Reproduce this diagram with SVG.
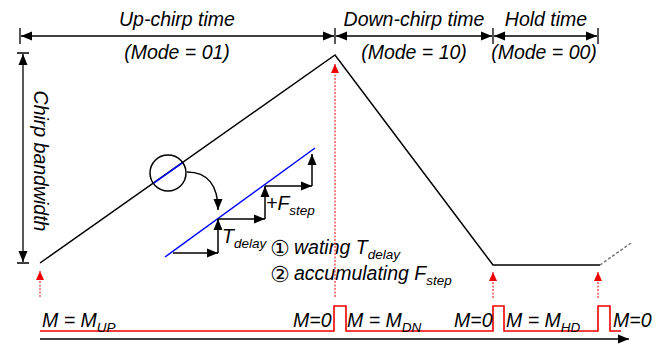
<svg xmlns="http://www.w3.org/2000/svg" width="669" height="346" viewBox="0 0 669 346">
<style>
.t{font-family:"Liberation Sans",Arial,sans-serif;font-style:italic;font-size:19.5px;fill:#000}
.s{font-size:13.5px}
.ln{stroke:#000;stroke-width:1.5;fill:none}
.dim{stroke:#000;stroke-width:1.3;fill:none}
.rd{stroke:#e00;stroke-width:1;stroke-dasharray:2,1.5;fill:none}
.sig{stroke:#e00;stroke-width:1.6;fill:none}
.num{font-family:"DejaVu Sans",sans-serif;font-size:22px;fill:#000}
</style>
<defs>
<marker id="ah" markerUnits="userSpaceOnUse" markerWidth="12" markerHeight="10" refX="11" refY="5" orient="auto-start-reverse"><path d="M0,0.5 L11,5 L0,9.5 Z" fill="#000"/></marker>
<marker id="rh" markerUnits="userSpaceOnUse" markerWidth="10" markerHeight="10" refX="9" refY="4" orient="auto"><path d="M0,0 L9,4 L0,8 Z" fill="#e00"/></marker>
</defs>
<g id="dimensions">
<path class="dim" d="M20,28V44M335,28V44M493,28V44M598,28V44M17,53H29M17,263H29"/>
<line class="dim" x1="21" y1="36" x2="334" y2="36" marker-start="url(#ah)" marker-end="url(#ah)"/>
<line class="dim" x1="336" y1="36" x2="492" y2="36" marker-start="url(#ah)" marker-end="url(#ah)"/>
<line class="dim" x1="494" y1="36" x2="597" y2="36" marker-start="url(#ah)" marker-end="url(#ah)"/>
<line class="dim" x1="23" y1="54" x2="23" y2="262" marker-start="url(#ah)" marker-end="url(#ah)"/>
</g>
<g id="labels">
<text class="t" x="177" y="26" text-anchor="middle">Up-chirp time</text>
<text class="t" x="177" y="59" text-anchor="middle">(Mode = 01)</text>
<text class="t" x="414" y="26" text-anchor="middle">Down-chirp time</text>
<text class="t" x="414" y="59" text-anchor="middle">(Mode = 10)</text>
<text class="t" x="546" y="26" text-anchor="middle">Hold time</text>
<text class="t" x="544" y="59" text-anchor="middle">(Mode = 00)</text>
<text class="t" transform="translate(34,161) rotate(90)" text-anchor="middle">Chirp bandwidth</text>
</g>
<g id="chirp">
<polyline class="ln" points="40,263 335,55 493,265 600,265"/>
<line x1="600" y1="265" x2="631" y2="243" stroke="#777" stroke-width="1.5" stroke-dasharray="3,2"/>
</g>
<g id="zoom">
<line x1="153" y1="183.6" x2="183" y2="162.4" stroke="#00f" stroke-width="1.5"/>
<circle cx="168" cy="173" r="18" class="ln"/>
<path class="ln" d="M187,172 C208,172 218,186 218,210" marker-end="url(#ah)"/>
<line x1="165" y1="257" x2="315" y2="148" stroke="#00f" stroke-width="1.5"/>
<line class="ln" x1="173" y1="253" x2="218" y2="253" marker-end="url(#ah)"/>
<line class="ln" x1="218" y1="253" x2="218" y2="219" marker-end="url(#ah)"/>
<line class="ln" x1="218" y1="219" x2="265" y2="219" marker-end="url(#ah)"/>
<line class="ln" x1="265" y1="219" x2="265" y2="186" marker-end="url(#ah)"/>
<line class="ln" x1="265" y1="186" x2="312" y2="186" marker-end="url(#ah)"/>
<line class="ln" x1="312" y1="186" x2="312" y2="154" marker-end="url(#ah)"/>
<text class="t" x="222" y="243">T<tspan class="s" dy="5">delay</tspan></text>
<text class="t" x="266" y="210">+F<tspan class="s" dy="5">step</tspan></text>
<text class="num" x="270" y="256">①</text>
<text class="t" x="294" y="254">wating T<tspan class="s" dy="5">delay</tspan></text>
<text class="num" x="270" y="282">②</text>
<text class="t" x="294" y="280">accumulating F<tspan class="s" dy="5">step</tspan></text>
</g>
<g id="markers">
<line class="rd" x1="40" y1="297" x2="40" y2="271" marker-end="url(#rh)"/>
<line class="rd" x1="335" y1="297" x2="335" y2="64" marker-end="url(#rh)"/>
<line class="rd" x1="493" y1="298" x2="493" y2="272" marker-end="url(#rh)"/>
<line class="rd" x1="598" y1="298" x2="598" y2="272" marker-end="url(#rh)"/>
</g>
<g id="signal">
<polyline class="sig" points="40,331 334,331 334,306 346,306 346,331 493,331 493,306 504,306 504,331 598,331 598,306 610,306 610,331 621,331"/>
<line x1="40" y1="339" x2="629" y2="339" stroke="#000" stroke-width="1.5" marker-end="url(#ah)"/>
<text class="t" x="42" y="327">M = M<tspan class="s" dy="5">UP</tspan></text>
<text class="t" x="293" y="327">M=0</text>
<text class="t" x="347" y="327">M = M<tspan class="s" dy="5">DN</tspan></text>
<text class="t" x="454" y="327">M=0</text>
<text class="t" x="506" y="327">M = M<tspan class="s" dy="5">HD</tspan></text>
<text class="t" x="613" y="327">M=0</text>
</g>
</svg>
